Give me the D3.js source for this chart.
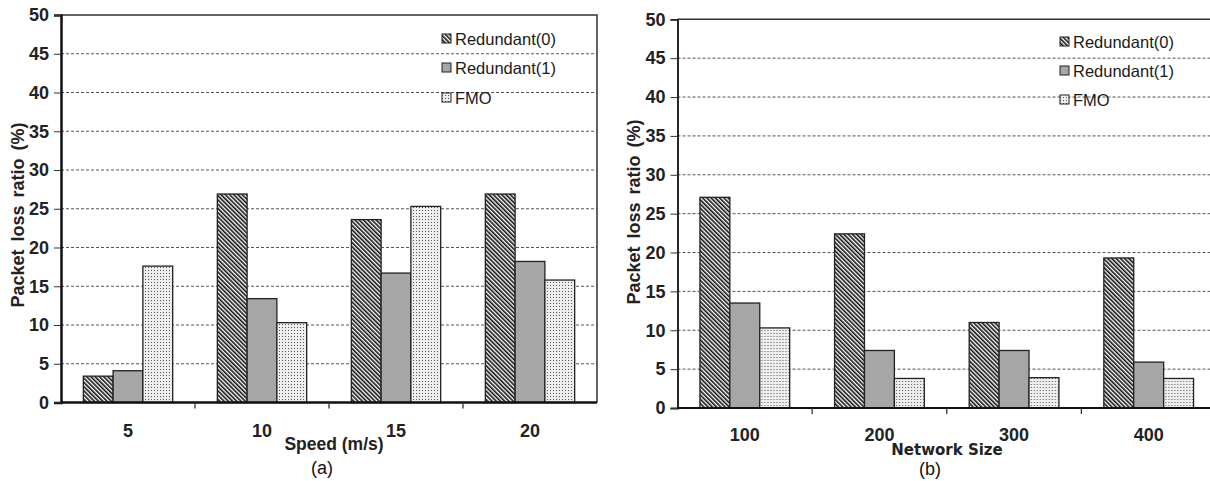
<!DOCTYPE html>
<html>
<head>
<meta charset="utf-8">
<script src="https://cdn.jsdelivr.net/npm/d3@7"></script>
<style>
  body { margin: 0; background: #fff; }
  svg { display: block; }
</style>
</head>
<body>
<div id="chart-area"></div>
<script>
// chart values
const seriesNames = ['Redundant(0)', 'Redundant(1)', 'FMO']
const yTicks = [0, 5, 10, 15, 20, 25, 30, 35, 40, 45, 50]

const speeds = ['5', '10', '15', '20']
const speedR0 = [3.4, 26.9, 23.6, 26.9]
const speedR1 = [4.1, 13.4, 16.7, 18.2]
const speedFMO = [17.6, 10.3, 25.3, 15.8]

const sizes = ['100', '200', '300', '400']
const sizeR0 = [27.1, 22.4, 11.0, 19.3]
const sizeR1 = [13.5, 7.4, 7.4, 5.9]
const sizeFMO = [10.3, 3.8, 3.9, 3.8]

const canvas = { width: 1210, height: 481 }
const arial = 'Arial, "Liberation Sans", sans-serif'
const dejavu = '"DejaVu Sans", sans-serif'

let svg = d3.select('#chart-area')
    .append('svg')
    .attr('width', canvas.width)
    .attr('height', canvas.height)

// fill patterns
let defs = svg.append('defs')
let stripe = defs.append('pattern')
    .attr('id', 'stripe')
    .attr('patternUnits', 'userSpaceOnUse')
    .attr('width', 3).attr('height', 3)
    .attr('patternTransform', 'rotate(-45)')
stripe.append('rect').attr('width', 3).attr('height', 3).attr('fill', '#fff')
stripe.append('rect').attr('width', 1.6).attr('height', 3).attr('fill', '#111')

let dots = defs.append('pattern')
    .attr('id', 'dots')
    .attr('patternUnits', 'userSpaceOnUse')
    .attr('width', 3).attr('height', 3)
dots.append('rect').attr('width', 3).attr('height', 3).attr('fill', '#eeeeee')
dots.append('rect').attr('width', 1).attr('height', 1).attr('fill', '#555')

const fills = ['url(#stripe)', '#a6a6a6', 'url(#dots)']

function drawPanel(p) {
    let g = svg.append('g')

    let x = d3.scaleBand()
        .domain(p.categories)
        .range([p.left, p.right])
        .padding(0)

    let xs = d3.scaleBand()
        .domain(seriesNames)
        .range([0, x.bandwidth()])
        .paddingInner(0)
        .paddingOuter(0.75)

    let y = d3.scaleLinear()
        .domain([0, 50])
        .range([p.base, p.top])

    // dashed grid
    g.selectAll('.grid')
        .data(yTicks.filter(d => d > 0 && d < 50))
        .enter()
        .append('line')
        .attr('x1', p.left).attr('x2', p.right)
        .attr('y1', d => y(d)).attr('y2', d => y(d))
        .attr('stroke', '#555')
        .attr('stroke-width', 1)
        .attr('stroke-dasharray', '3,2')

    // frame: top and right
    g.append('path')
        .attr('d', `M${p.left},${y(50)}H${p.right}V${y(0)}`)
        .attr('fill', 'none')
        .attr('stroke', '#333')
        .attr('stroke-width', 1.5)

    // bars
    let rows = p.categories.map((c, i) => ({
        cat: c,
        vals: seriesNames.map((s, k) => ({ s: s, k: k, v: p.values[k][i] }))
    }))
    g.selectAll('.cat')
        .data(rows)
        .enter()
        .append('g')
        .attr('transform', d => `translate(${x(d.cat)},0)`)
        .selectAll('rect')
        .data(d => d.vals)
        .enter()
        .append('rect')
        .attr('x', d => xs(d.s))
        .attr('y', d => y(d.v))
        .attr('width', xs.bandwidth())
        .attr('height', d => y(0) - y(d.v))
        .attr('fill', d => fills[d.k])
        .attr('stroke', '#222')
        .attr('stroke-width', 1.3)

    // y axis
    let yAxis = d3.axisLeft(y)
        .tickValues(yTicks)
        .tickSize(7)
        .tickPadding(5)
    let ya = g.append('g')
        .attr('transform', `translate(${p.left},0)`)
        .call(yAxis)
    ya.select('.domain').attr('stroke', '#111').attr('stroke-width', p.axisWidth)
    ya.selectAll('.tick line').attr('stroke', '#333')
    ya.selectAll('.tick text')
        .attr('font-family', arial)
        .attr('font-weight', 'bold')
        .attr('font-size', '18px')
        .attr('fill', '#222')

    // x axis: ticks on band edges, labels in band centres
    g.append('line')
        .attr('x1', p.left).attr('x2', p.right)
        .attr('y1', y(0)).attr('y2', y(0))
        .attr('stroke', '#111')
        .attr('stroke-width', p.axisWidth)
    g.selectAll('.xtick')
        .data(p.categories.slice(1))
        .enter()
        .append('line')
        .attr('x1', d => x(d)).attr('x2', d => x(d))
        .attr('y1', y(0)).attr('y2', y(0) + 6)
        .attr('stroke', '#333')
        .attr('stroke-width', 1.3)
    g.selectAll('.xlabel')
        .data(p.categories)
        .enter()
        .append('text')
        .attr('x', d => x(d) + x.bandwidth() / 2)
        .attr('y', p.tickLabelY)
        .attr('text-anchor', 'middle')
        .attr('font-family', arial)
        .attr('font-weight', 'bold')
        .attr('font-size', '18px')
        .attr('fill', '#222')
        .text(d => d)

    // axis titles
    g.append('text')
        .attr('transform', `translate(${p.yTitleX},${p.yTitleY}) rotate(-90)`)
        .attr('text-anchor', 'middle')
        .attr('font-family', arial)
        .attr('font-weight', 'bold')
        .attr('font-size', '18px')
        .attr('word-spacing', '3px')
        .attr('fill', '#222')
        .text('Packet loss ratio (%)')

    g.append('text')
        .attr('x', p.xTitleX).attr('y', p.xTitleY)
        .attr('text-anchor', 'middle')
        .attr('font-family', p.xTitleFont)
        .attr('font-weight', 'bold')
        .attr('font-size', p.xTitleSize)
        .attr('fill', '#222')
        .text(p.xTitle)

    g.append('text')
        .attr('x', p.subX).attr('y', p.subY)
        .attr('text-anchor', 'middle')
        .attr('font-family', arial)
        .attr('font-size', '18px')
        .attr('fill', '#111')
        .text(p.sub)

    // legend
    let lg = g.selectAll('.legend')
        .data(seriesNames)
        .enter()
        .append('g')
        .attr('transform', (d, i) => `translate(${p.legendX},${p.legendY[i]})`)
    lg.append('rect')
        .attr('x', 0).attr('y', -11)
        .attr('width', 9).attr('height', 9)
        .attr('fill', (d, i) => fills[i])
        .attr('stroke', '#222')
        .attr('stroke-width', 1)
    lg.append('text')
        .attr('x', 13).attr('y', 0)
        .attr('font-family', arial)
        .attr('font-size', '16.5px')
        .attr('fill', '#1a1a1a')
        .text(d => d)
}

drawPanel({
    categories: speeds,
    values: [speedR0, speedR1, speedFMO],
    left: 61, right: 597, top: 15, base: 402.5,
    axisWidth: 2.5,
    tickLabelY: 437,
    yTitleX: 24, yTitleY: 215,
    xTitle: 'Speed (m/s)', xTitleX: 334, xTitleY: 450,
    xTitleFont: arial, xTitleSize: '17.5px',
    sub: '(a)', subX: 322, subY: 474,
    legendX: 442, legendY: [45, 74, 104]
})

drawPanel({
    categories: sizes,
    values: [sizeR0, sizeR1, sizeFMO],
    left: 677.5, right: 1216, top: 19.3, base: 408,
    axisWidth: 1.8,
    tickLabelY: 441,
    yTitleX: 640, yTitleY: 212,
    xTitle: 'Network Size', xTitleX: 947, xTitleY: 455,
    xTitleFont: dejavu, xTitleSize: '15px',
    sub: '(b)', subX: 930, subY: 475,
    legendX: 1060, legendY: [48, 77, 106]
})
</script>
</body>
</html>
